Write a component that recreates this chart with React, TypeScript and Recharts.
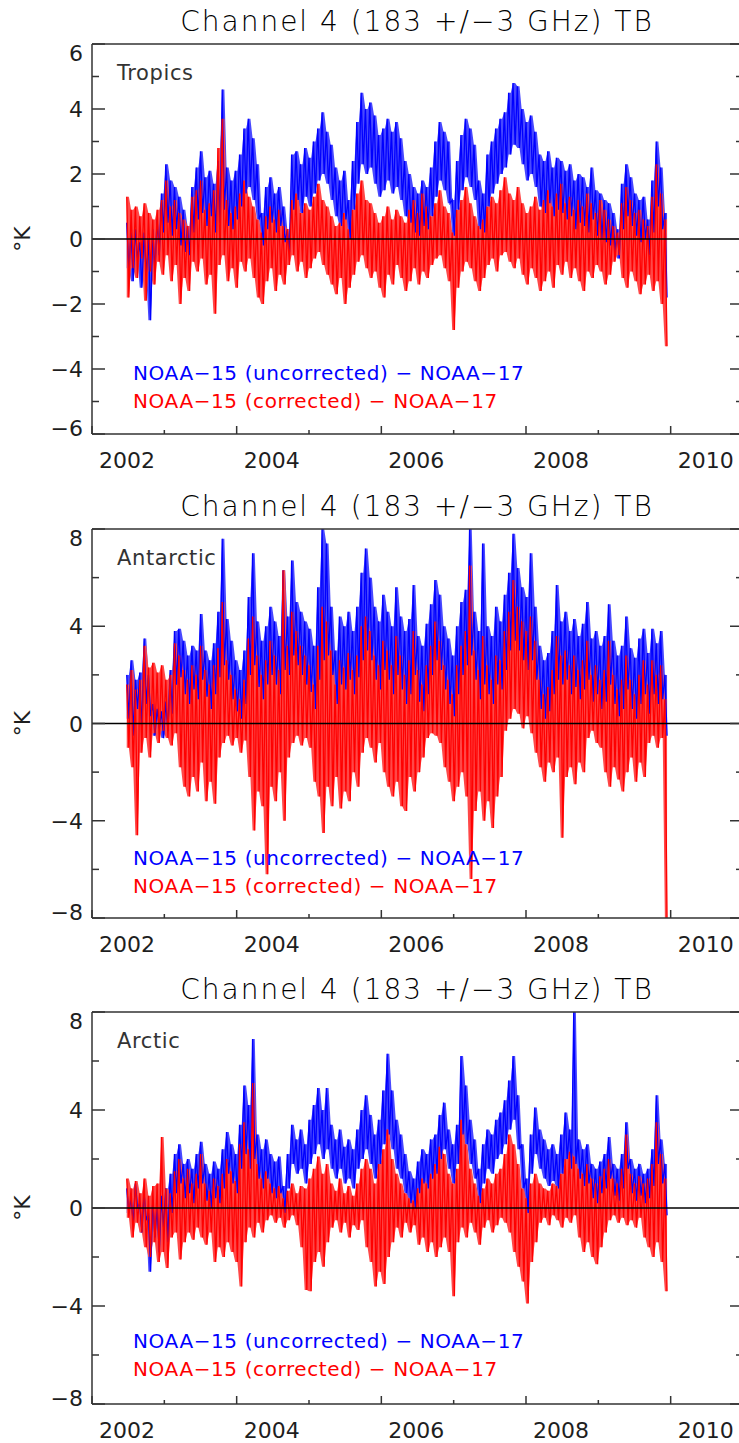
import React from 'react';
import { ComposedChart, Line, Area, XAxis, YAxis, ReferenceLine, Legend } from 'recharts';

// Upper value k sits at START_YEAR + k*STEP, lower value k half a step later.
const START_YEAR = 2002.48;
const STEP = 0.06;

const yearTicks = [2002, 2003, 2004, 2005, 2006, 2007, 2008, 2009, 2010, 2011];
const tropicsTicks = [-6, -5, -4, -3, -2, -1, 0, 1, 2, 3, 4, 5, 6];
const polarTicks = [-8, -6, -4, -2, 0, 2, 4, 6, 8];

const tropicsBlueHi = [
  0.5, 0.2, 0.3, -0.1, 0.2, 0.0, 0.3, 0.6, 1.4, 2.3,
  1.8, 1.6, 1.3, 0.9, 0.4, 1.6, 2.2, 2.7, 1.9, 2.1,
  1.7, 2.4, 4.6, 2.2, 1.8, 2.1, 2.6, 3.4, 3.7, 3.1,
  2.3, 0.8, 1.6, 1.9, 1.4, 1.6, 1.0, 0.3, 2.6, 2.7,
  2.3, 2.8, 2.5, 3.0, 3.4, 3.9, 3.3, 2.9, 2.2, 1.8,
  2.1, 1.2, 2.4, 3.6, 4.5, 4.0, 4.2, 3.8, 3.2, 3.4,
  3.7, 3.3, 3.6, 3.1, 2.4, 2.0, 1.6, 1.4, 1.8, 1.6,
  2.2, 3.0, 3.6, 3.3, 3.0, 1.2, 2.4, 3.2, 3.7, 3.4,
  2.9, 1.8, 1.4, 2.6, 3.0, 3.4, 3.7, 3.9, 4.5, 4.8,
  4.7, 4.0, 3.6, 3.8, 3.3, 2.6, 2.4, 2.7, 2.2, 2.5,
  2.4, 2.1, 2.3, 1.8, 2.0, 1.9, 1.6, 2.2, 1.5, 1.4,
  1.2, 1.1, 0.8, 0.3, 1.7, 2.3, 1.9, 1.4, 1.2, 1.3,
  0.6, 1.8, 3.0, 2.2, 0.8,
];
const tropicsBlueLo = [
  -0.9, -1.3, -0.6, -1.5, -1.1, -2.5, -1.0, -0.5, 0.2, 0.5,
  0.1, 0.3, -0.2, -0.4, -0.5, 0.2, 0.6, 0.8, 0.4, 0.7,
  0.2, 0.5, 0.9, 0.4, 0.3, 0.6, 1.0, 1.4, 1.6, 1.2,
  0.6, -0.2, 0.3, 0.5, 0.2, 0.4, -0.1, -0.4, 0.9, 1.2,
  0.8, 1.3, 1.0, 1.4, 1.8, 2.0, 1.7, 1.2, 0.7, 0.4,
  0.6, 0.0, 0.9, 1.7, 2.3, 2.0, 2.2, 1.7, 1.3, 1.5,
  1.8, 1.4, 1.6, 1.2, 0.7, 0.5, 0.2, 0.1, 0.4, 0.3,
  0.7, 1.3, 1.8, 1.5, 1.1, 0.1, 0.9, 1.5, 1.9, 1.6,
  1.2, 0.3, 0.2, 1.0, 1.4, 1.7, 2.0, 2.2, 2.6, 2.9,
  2.8, 2.3, 1.8, 2.0, 1.6, 1.0, 0.8, 1.1, 0.7, 0.9,
  0.8, 0.6, 0.7, 0.3, 0.5, 0.4, 0.2, 0.6, 0.1, 0.0,
  -0.1, -0.2, -0.4, -0.6, 0.3, 0.7, 0.4, 0.1, -0.1, 0.0,
  -0.5, 0.2, 1.0, 0.3, -1.8,
];
const tropicsRedHi = [
  1.3, 0.9, 1.0, 0.7, 1.1, 0.8, 0.6, 0.9, 1.2, 1.8,
  1.0, 1.2, 0.8, 0.6, 0.4, 1.3, 1.5, 1.8, 0.9, 1.1,
  1.5, 2.8, 3.7, 1.2, 0.8, 1.0, 1.4, 1.8, 1.3, 1.0,
  0.6, 0.2, 0.7, 1.0, 0.6, 0.9, 0.4, 0.3, 1.2, 1.4,
  0.8, 1.1, 0.9, 1.3, 1.7, 1.2, 1.0, 0.7, 0.4, 0.5,
  0.8, 0.3, 0.9, 1.4, 1.8, 1.2, 1.1, 0.8, 0.5, 0.7,
  1.0, 0.6, 0.9, 0.7, 0.5, 0.9, 1.2, 0.8, 1.4, 1.0,
  0.7, 1.1, 1.5, 1.0, 0.8, 0.2, 0.9, 1.2, 1.6, 1.1,
  0.7, 0.4, 0.6, 1.0, 1.3, 1.1, 1.5, 1.9, 1.4, 1.2,
  1.6, 1.1, 0.8, 1.0, 1.3, 0.9, 1.2, 1.5, 1.0, 1.4,
  1.7, 1.1, 1.3, 0.9, 1.2, 1.0, 1.4, 1.1, 0.8, 1.2,
  0.9, 0.6, 0.4, 0.2, 1.1, 1.6, 1.2, 0.8, 0.9, 0.6,
  0.4, 1.3, 2.3, 1.4, 0.6,
];
const tropicsRedLo = [
  -1.8, -0.9, -1.2, -0.6, -1.9, -1.0, -1.4, -0.7, -1.1, -0.5,
  -1.3, -0.8, -2.0, -1.2, -1.6, -0.7, -1.0, -0.6, -1.4, -1.1,
  -2.3, -0.8, -0.5, -1.3, -0.9, -1.5, -0.7, -1.0, -0.6, -1.2,
  -1.8, -2.0, -1.3, -0.9, -1.6, -1.1, -1.4, -0.8, -0.5, -1.0,
  -0.7, -1.2, -0.9, -0.6, -0.4, -0.8, -1.1, -1.4, -1.7, -1.2,
  -2.0, -1.5, -1.1, -0.7, -0.5, -0.9, -1.2, -1.0, -1.5, -1.8,
  -1.1, -1.4, -0.8, -1.2, -1.6, -1.3, -0.9, -1.4, -1.0, -1.2,
  -0.8, -0.6, -0.5, -0.9, -1.3, -2.8, -1.5, -1.0, -0.7, -0.9,
  -1.3, -1.6, -1.2, -0.8, -0.6, -1.0, -0.5, -0.4, -0.7, -0.9,
  -0.6, -1.1, -1.4, -0.9, -1.2, -1.6, -1.3, -1.0, -1.5, -0.8,
  -1.1, -0.7, -1.2, -0.9, -1.3, -1.6, -1.0, -1.2, -0.8, -1.0,
  -1.4, -1.1, -0.7, -0.5, -1.2, -1.5, -1.0, -1.3, -1.7, -1.4,
  -1.1, -1.6, -1.3, -2.0, -3.3,
];

const antarcticBlueHi = [
  2.0, 2.6, 1.8, 2.1, 3.5, 2.0, 0.8, 0.6, 0.5, 0.9,
  2.2, 3.8, 3.9, 3.4, 2.8, 3.2, 3.0, 4.5, 3.0, 2.6,
  3.3, 4.6, 7.6, 4.3, 3.4, 2.6, 2.2, 3.0, 5.2, 7.0,
  4.2, 3.4, 4.0, 4.8, 4.2, 3.6, 6.3, 4.4, 6.7, 5.0,
  4.6, 4.2, 3.9, 3.2, 5.6, 8.0, 7.4, 4.8, 3.0, 4.4,
  4.0, 4.6, 3.8, 4.8, 6.2, 7.2, 6.0, 4.8, 4.2, 5.3,
  4.6, 4.0, 5.6, 4.4, 3.8, 4.3, 5.7, 3.6, 3.2, 4.1,
  4.9, 5.9, 5.3, 4.0, 3.5, 2.8, 4.0, 5.0, 5.5, 8.0,
  4.6, 3.8, 7.4, 4.0, 3.6, 4.8, 4.2, 5.3, 6.2, 7.8,
  6.4, 5.6, 5.2, 7.0, 4.8, 3.2, 2.6, 2.9, 3.8, 5.7,
  4.2, 4.6, 3.8, 4.3, 3.6, 4.1, 5.0, 3.5, 3.8, 3.2,
  3.6, 4.9, 3.4, 2.8, 3.2, 4.4, 3.1, 2.7, 3.5, 3.9,
  2.9, 3.9, 3.3, 3.8, 2.0,
];
const antarcticBlueLo = [
  0.2, -0.5, 0.6, -0.3, 0.8, 0.3, -0.5, -0.2, -0.6, -0.3,
  0.4, 1.6, 1.9, 1.2, 0.8, 1.4, 1.0, 1.8, 1.1, 0.6,
  1.2, 1.9, 2.4, 1.8, 1.0, 0.5, 0.2, 0.8, 2.0, 2.4,
  1.5, 1.0, 1.6, 2.0, 1.6, 1.2, 2.2, 2.0, 2.8, 2.4,
  2.0, 1.6, 1.3, 0.6, 1.8, 2.6, 2.8, 2.0, 0.8, 1.6,
  1.4, 1.8, 1.2, 1.9, 2.6, 3.0, 2.6, 1.8, 1.4, 2.2,
  1.8, 1.2, 2.0, 1.4, 0.8, 1.2, 2.0, 0.9, 0.5, 1.2,
  2.0, 2.6, 2.2, 1.4, 0.8, 0.3, 1.2, 2.0, 2.4, 2.8,
  1.8, 1.0, 1.6, 1.2, 0.8, 1.6, 1.4, 2.2, 3.0, 3.4,
  3.0, 2.6, 2.2, 2.6, 1.8, 0.6, 0.2, 0.5, 1.2, 1.8,
  1.6, 1.8, 1.2, 1.5, 1.0, 1.4, 1.8, 0.9, 1.2, 0.6,
  0.9, 1.6, 0.8, 0.3, 0.6, 1.4, 0.6, 0.2, 0.8, 1.2,
  0.4, 1.2, 0.8, 1.0, -0.5,
];
const antarcticRedHi = [
  1.6, 2.2, 1.4, 1.8, 3.2, 2.3, 2.5, 2.1, 2.4, 1.8,
  2.0, 3.3, 2.8, 2.2, 1.8, 2.4, 2.0, 3.2, 2.2, 1.6,
  2.4, 3.1, 5.0, 2.6, 2.0, 1.4, 1.0, 1.8, 3.5, 4.4,
  2.8, 2.0, 2.6, 3.4, 2.8, 2.2, 6.3, 3.2, 4.6, 3.8,
  3.2, 2.8, 2.4, 1.6, 3.2, 4.8, 4.2, 3.0, 1.6, 2.6,
  2.3, 2.9, 2.2, 2.8, 4.0, 4.4, 3.8, 2.8, 2.4, 3.4,
  3.0, 2.4, 3.6, 2.8, 2.0, 2.6, 3.8, 2.2, 1.6, 2.4,
  3.2, 4.2, 3.4, 2.4, 1.8, 1.2, 2.4, 3.2, 3.8, 6.5,
  3.0, 2.2, 3.6, 2.4, 1.8, 2.8, 2.6, 3.8, 4.6, 5.9,
  4.8, 4.2, 3.8, 4.4, 3.4, 1.8, 1.2, 1.5, 2.2, 3.6,
  2.8, 3.0, 2.4, 2.8, 2.2, 2.6, 3.4, 2.0, 2.4, 1.8,
  2.2, 3.4, 2.0, 1.4, 1.8, 2.8, 1.8, 1.2, 2.0, 2.6,
  1.6, 2.6, 2.0, 2.4, 1.0,
];
const antarcticRedLo = [
  -1.0, -1.8, -4.6, -1.2, -0.6, -1.4, -0.4, -0.8, -0.3, -0.6,
  -0.9, -0.4, -1.8, -2.6, -3.0, -2.2, -2.8, -1.6, -3.2, -2.4,
  -3.3, -1.4, -0.8, -0.5, -0.9, -0.6, -1.2, -0.7, -2.2, -4.4,
  -2.8, -3.4, -6.2, -2.6, -3.2, -2.0, -4.0, -1.4, -0.8, -0.5,
  -0.9, -0.6, -1.0, -2.4, -3.0, -4.5, -2.6, -3.4, -2.2, -3.5,
  -2.8, -3.2, -2.0, -2.6, -1.2, -0.6, -1.0, -1.6, -0.8, -2.0,
  -2.6, -3.0, -2.4, -3.4, -3.6, -2.2, -2.8, -2.0, -1.4, -0.6,
  -0.4, -0.5, -0.8, -1.8, -2.4, -3.2, -2.6, -2.0, -3.0, -6.4,
  -3.6, -2.8, -4.0, -3.2, -4.3, -3.0, -2.2, -0.3, 0.2, 0.6,
  0.4, -0.2, 0.3, -0.4, -1.2, -1.8, -2.4, -1.6, -2.0, -1.4,
  -4.7, -2.2, -1.8, -2.5, -1.6, -2.0, -0.6, -0.3, -0.8, -1.0,
  -2.0, -2.6, -1.8, -2.3, -2.8, -2.0, -1.4, -2.4, -1.6, -2.2,
  -0.8, -0.5, -1.0, -0.6, -8.0,
];

const arcticBlueHi = [
  0.8, 0.4, 1.0, 0.2, 0.6, -0.2, 0.3, 0.0, 0.5, 0.8,
  1.4, 2.2, 2.6, 1.8, 2.0, 1.6, 2.2, 2.7, 1.8, 1.4,
  1.9, 1.6, 2.4, 3.1, 2.6, 2.2, 3.4, 5.0, 4.2, 6.9,
  3.0, 2.4, 2.8, 2.2, 1.9, 2.1, 0.9, 2.2, 3.4, 2.8,
  3.2, 2.6, 3.6, 4.2, 4.9, 4.0, 4.9, 3.4, 2.8, 3.2,
  2.5, 2.8, 2.4, 3.2, 4.0, 4.6, 3.8, 3.0, 3.6, 4.8,
  6.3, 4.8, 3.6, 3.0, 2.2, 1.5, 1.2, 1.9, 2.4, 2.2,
  2.8, 3.0, 3.8, 4.3, 3.2, 2.6, 3.4, 6.2, 5.0, 3.6,
  2.8, 1.6, 2.6, 3.2, 3.0, 3.6, 3.9, 4.4, 5.2, 6.2,
  4.6, 2.6, 1.2, 3.0, 4.1, 3.2, 2.8, 2.4, 2.6, 2.2,
  3.0, 3.9, 3.2, 8.0, 2.8, 2.4, 2.6, 1.8, 1.6, 1.9,
  2.2, 2.9, 1.8, 1.6, 2.2, 3.5, 2.0, 1.6, 1.8, 1.4,
  1.6, 2.4, 4.6, 2.8, 1.8,
];
const arcticBlueLo = [
  -0.2, -0.6, 0.0, -1.0, -0.5, -2.6, -1.2, -1.8, -0.8, -1.4,
  -0.2, 0.6, 1.0, 0.4, 0.6, 0.2, 0.8, 1.0, 0.3, 0.0,
  0.4, 0.2, 0.8, 1.4, 1.0, 0.6, 1.6, 2.2, 1.6, 2.0,
  1.2, 0.8, 1.2, 0.6, 0.4, 0.6, -0.2, 0.8, 1.8, 1.4,
  1.6, 1.0, 1.8, 2.2, 2.6, 2.0, 2.4, 1.6, 1.2, 1.6,
  1.0, 1.2, 0.8, 1.6, 2.0, 2.4, 1.8, 1.2, 1.8, 2.6,
  3.0, 2.4, 1.6, 1.2, 0.6, 0.2, 0.0, 0.6, 1.0, 0.8,
  1.2, 1.4, 2.0, 2.4, 1.6, 1.0, 1.8, 3.0, 2.6, 1.8,
  1.2, 0.2, 1.0, 1.6, 1.4, 2.0, 2.2, 2.6, 3.2, 3.6,
  2.4, 0.8, -0.2, 1.4, 2.2, 1.6, 1.2, 0.9, 1.1, 0.8,
  1.4, 2.0, 1.6, 1.8, 1.2, 0.9, 1.0, 0.4, 0.2, 0.6,
  0.8, 1.2, 0.5, 0.3, 0.8, 1.6, 0.6, 0.3, 0.5, 0.2,
  0.4, 0.9, 1.8, 1.0, -0.3,
];
const arcticRedHi = [
  1.2, 0.8, 1.1, 0.6, 1.2, 0.5, 0.9, 1.0, 2.9, 0.8,
  0.6, 1.5, 2.0, 1.2, 1.6, 1.0, 1.4, 2.2, 1.0, 0.7,
  1.2, 0.9, 1.4, 2.0, 1.5, 1.1, 2.6, 3.5, 2.4, 5.1,
  1.8, 1.2, 1.5, 1.0, 0.8, 0.9, 0.4, 0.7, 1.0, 0.6,
  0.9, 0.8, 1.2, 1.6, 2.1, 1.4, 1.8, 1.0, 0.7, 1.2,
  0.6, 0.9, 0.5, 1.0, 1.6, 2.0, 1.6, 1.0, 1.8, 2.4,
  3.2, 2.0, 1.4, 1.0, 0.6, 0.4, 0.3, 0.8, 1.2, 1.0,
  1.4, 1.8, 2.5, 2.2, 1.4, 1.0, 1.6, 3.6, 2.6, 1.6,
  1.0, 0.5, 0.8, 1.2, 1.0, 1.4, 1.6, 2.2, 3.0, 2.6,
  1.8, 0.8, 0.4, 1.0, 1.4, 1.0, 0.8, 0.7, 1.0, 0.9,
  1.4, 2.0, 2.3, 2.1, 1.6, 1.4, 1.8, 1.2, 1.0, 1.3,
  1.6, 2.0, 1.2, 1.0, 1.6, 3.0, 1.4, 1.0, 1.3, 1.0,
  1.2, 1.8, 3.5, 2.2, 1.2,
];
const arcticRedLo = [
  -0.4, -1.2, -0.6, -1.0, -1.6, -2.0, -1.4, -2.2, -1.8, -2.45,
  -1.2, -1.0, -2.1, -1.4, -1.0, -1.3, -0.8, -1.2, -1.5, -1.0,
  -2.2, -1.6, -2.0, -1.4, -1.8, -2.2, -3.2, -1.4, -0.8, -1.2,
  -0.6, -1.0, -0.5, -0.3, -0.6, -0.4, -0.8, -0.5, -0.3, -0.7,
  -1.6, -3.35, -3.4, -2.2, -1.8, -2.4, -1.4, -0.8, -0.5, -1.0,
  -0.6, -1.2, -0.7, -0.9, -0.5, -1.6, -2.2, -3.2, -2.6, -3.1,
  -2.0, -1.4, -0.8, -1.2, -0.6, -1.0, -0.7, -1.5, -1.2, -1.8,
  -1.4, -2.0, -1.6, -1.2, -1.8, -3.6, -1.4, -0.8, -1.2, -0.6,
  -1.0, -1.5, -0.8, -0.5, -1.0, -0.7, -0.4, -0.6, -1.0, -1.8,
  -2.4, -3.0, -3.9, -2.2, -1.4, -0.6, -0.4, -0.7, -0.3, -0.5,
  -0.8, -0.4, -0.6, -0.3, -1.2, -1.8, -1.4, -2.0, -2.3, -1.6,
  -1.0, -0.5, -0.3, -0.6, -0.4, -0.7, -0.5, -0.8, -0.4, -1.2,
  -1.6, -2.0, -1.4, -2.2, -3.4,
];

const BLUE = '#0000ff';
const RED = '#ff0000';
const BLUE_FILL = '#4848ff';
const RED_FILL = '#ff4848';
const AXIS = '#333333';
const TEXT = '#1e1e1e';
const FONT = '"DejaVu Sans", sans-serif';
const MINUS = '\u2212';

const seriesNames = {
  blue: `NOAA${MINUS}15 (uncorrected) ${MINUS} NOAA${MINUS}17`,
  red: `NOAA${MINUS}15 (corrected) ${MINUS} NOAA${MINUS}17`,
};

type Row = { t: number; blue: number; red: number; blueBand: number[]; redBand: number[] };

function buildRows(blueHi: number[], blueLo: number[], redHi: number[], redLo: number[]) {
  const rows: Row[] = [];
  blueHi.forEach((_, k) => {
    const blueBand = [blueLo[k], blueHi[k]];
    const redBand = [redLo[k], redHi[k]];
    rows.push({ t: START_YEAR + k * STEP, blue: blueHi[k], red: redHi[k], blueBand, redBand });
    rows.push({ t: START_YEAR + k * STEP + STEP / 2, blue: blueLo[k], red: redLo[k], blueBand, redBand });
  });
  return rows;
}

const panels = [
  { name: 'Tropics', top: 0, height: 485, domain: [-6, 6], ticks: tropicsTicks, major: 2,
    rows: buildRows(tropicsBlueHi, tropicsBlueLo, tropicsRedHi, tropicsRedLo) },
  { name: 'Antarctic', top: 485, height: 484, domain: [-8, 8], ticks: polarTicks, major: 4,
    rows: buildRows(antarcticBlueHi, antarcticBlueLo, antarcticRedHi, antarcticRedLo) },
  { name: 'Arctic', top: 968, height: 487, domain: [-8, 8], ticks: polarTicks, major: 4,
    rows: buildRows(arcticBlueHi, arcticBlueLo, arcticRedHi, arcticRedLo) },
];

const fmt = (v: number) => (v < 0 ? MINUS + Math.abs(v) : String(v));

const BottomTick = (props: any) => {
  const { x, y, payload } = props;
  const major = payload.value % 2 === 0;
  return (
    <g>
      <line x1={x} x2={x} y1={y} y2={y - (major ? 8 : 4)} stroke={AXIS} strokeWidth={1.5} />
      {major && payload.value < 2011 && (
        <text x={x + 35} y={y + 34} textAnchor="middle" fill={TEXT} fontSize={22} fontFamily={FONT}>
          {payload.value}
        </text>
      )}
    </g>
  );
};

const TopTick = (props: any) => {
  const { x, y, payload } = props;
  const major = payload.value % 2 === 0;
  return <line x1={x} x2={x} y1={y} y2={y + (major ? 8 : 5)} stroke={AXIS} strokeWidth={1.5} />;
};

const makeLeftTick = (major: number, lo: number, hi: number) => (props: any) => {
  const { x, y, payload } = props;
  const v = payload.value;
  const isMajor = v % major === 0;
  const dy = v === hi ? 9 : v === lo ? -6 : 0;
  return (
    <g>
      <line x1={x} x2={x + (isMajor ? 13 : 7)} y1={y} y2={y} stroke={AXIS} strokeWidth={1.5} />
      {isMajor && (
        <text x={x - 9} y={y + dy + 8} textAnchor="end" fill={TEXT} fontSize={22} fontFamily={FONT}>
          {fmt(v)}
        </text>
      )}
    </g>
  );
};

const makeRightTick = (major: number) => (props: any) => {
  const { x, y, payload } = props;
  const isMajor = payload.value % major === 0;
  return <line x1={x} x2={x - (isMajor ? 13 : 7)} y1={y} y2={y} stroke={AXIS} strokeWidth={1.5} />;
};

const UnitLabel = (props: any) => {
  const vb = props.viewBox || {};
  const cy = vb.y + vb.height / 2;
  return (
    <text x={22} y={cy} transform={`rotate(-90, 22, ${cy})`} textAnchor="middle" dominantBaseline="central"
      fill={TEXT} fontSize={22} fontFamily={FONT}>
      °K
    </text>
  );
};

// uncorrected (blue) line first, corrected (red) second, as in the figure
const renderLegend = (props: any) => {
  const items = (props.payload || [])
    .filter((e: any) => e.dataKey === 'blue' || e.dataKey === 'red')
    .sort((a: any, b: any) => (a.dataKey === 'blue' ? -1 : b.dataKey === 'blue' ? 1 : 0));
  return (
    <div style={{ fontFamily: FONT, fontSize: 20, lineHeight: '28px', letterSpacing: 0.6, whiteSpace: 'nowrap' }}>
      {items.map((entry: any) => (
        <div key={entry.value} style={{ color: entry.color }}>{entry.value}</div>
      ))}
    </div>
  );
};

function Panel({ p }: { p: (typeof panels)[number] }) {
  const [lo, hi] = p.domain;
  return (
    <div style={{ position: 'absolute', left: 0, top: p.top, width: 760, height: p.height }}>
      <ComposedChart width={760} height={p.height} data={p.rows} margin={{ top: 43, right: 16, bottom: 21, left: 32 }}>
        <XAxis dataKey="t" type="number" domain={[2002, 2011]} ticks={yearTicks} interval={0}
          height={30} tickSize={0} tickMargin={0} tickLine={false} tick={BottomTick}
          axisLine={{ stroke: AXIS, strokeWidth: 1.5 }} allowDataOverflow />
        <XAxis xAxisId="top" orientation="top" type="number" domain={[2002, 2011]} ticks={yearTicks} interval={0}
          height={1} tickSize={0} tickMargin={0} tickLine={false} tick={TopTick}
          axisLine={{ stroke: AXIS, strokeWidth: 1.5 }} allowDataOverflow />
        <YAxis type="number" domain={p.domain} ticks={p.ticks} interval={0} width={60}
          tickSize={0} tickMargin={0} tickLine={false} tick={makeLeftTick(p.major, lo, hi)}
          axisLine={{ stroke: AXIS, strokeWidth: 1.5 }} allowDataOverflow label={<UnitLabel />} />
        <YAxis yAxisId="right" orientation="right" type="number" domain={p.domain} ticks={p.ticks} interval={0}
          width={1} tickSize={0} tickMargin={0} tickLine={false} tick={makeRightTick(p.major)}
          axisLine={{ stroke: AXIS, strokeWidth: 1.5 }} allowDataOverflow />
        <Area dataKey="blueBand" type="linear" stroke="none" fill={BLUE_FILL} fillOpacity={1}
          legendType="none" isAnimationActive={false} />
        <Line dataKey="blue" name={seriesNames.blue} type="linear"
          stroke={BLUE} strokeWidth={1.3} dot={false} isAnimationActive={false} />
        <Area dataKey="redBand" type="linear" stroke="none" fill={RED_FILL} fillOpacity={1}
          legendType="none" isAnimationActive={false} />
        <Line dataKey="red" name={seriesNames.red} type="linear"
          stroke={RED} strokeWidth={1.3} dot={false} isAnimationActive={false} />
        <ReferenceLine y={0} stroke="#000" strokeWidth={1.5} />
        <Legend layout="vertical" align="center" verticalAlign="middle" content={renderLegend}
          wrapperStyle={{ position: 'absolute', left: 133, top: 359, width: 'auto', height: 'auto' }} />
      </ComposedChart>
      <div style={{ position: 'absolute', left: 0, top: 5, width: 834, textAlign: 'center', fontFamily: FONT,
        fontSize: 28, fontWeight: 300, lineHeight: '34px', letterSpacing: 2, color: '#000', whiteSpace: 'nowrap' }}>
        {`Channel 4 (183 +/${MINUS}3 GHz) TB`}
      </div>
      <div style={{ position: 'absolute', left: 117, top: 59, fontFamily: FONT, fontSize: 21,
        lineHeight: '28px', letterSpacing: 0.6, color: '#333' }}>
        {p.name}
      </div>
    </div>
  );
}

export default function App() {
  return (
    <div style={{ position: 'absolute', left: 0, top: 0, width: 739, height: 1443, overflow: 'hidden', background: '#fff' }}>
      {panels.map((p) => <Panel key={p.name} p={p} />)}
    </div>
  );
}
